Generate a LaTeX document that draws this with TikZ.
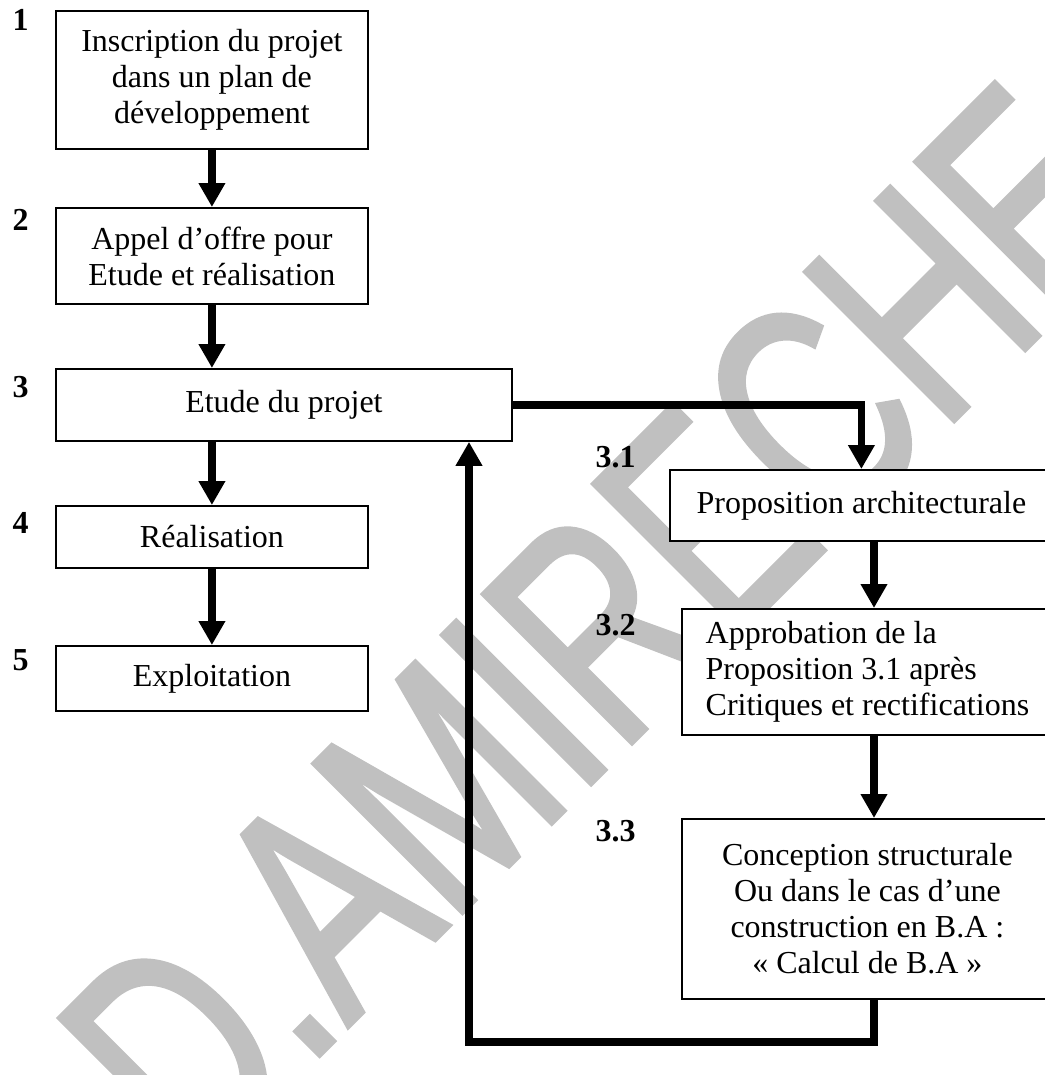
\documentclass[tikz,border=0pt]{standalone}
\usepackage{fontspec}
\setmainfont{Liberation Serif}
\newfontfamily\wmfont[FakeBold=2]{Liberation Sans}
\usetikzlibrary{arrows.meta}
\definecolor{wmgray}{HTML}{C0C0C0}

\tikzset{every picture/.append style={x=0.375pt, y=-0.375pt}}
\tikzset{
  box/.style={draw, fill=white, line width=0.7pt, inner sep=0pt, align=center,
    anchor=north west, font=\fontsize{12pt}{13.5pt}\selectfont},
  num/.style={anchor=base west, inner sep=0pt, font=\fontsize{12pt}{13.5pt}\selectfont\bfseries},
  flow/.style={line width=2.7pt, -{Triangle[length=9pt, width=9.5pt]}},
  wmark/.style={text=wmgray, inner sep=0pt, rotate=45, xscale=0.71, transform shape,
    font=\wmfont\fontsize{114pt}{114pt}\selectfont}
}

\begin{document}
\begin{tikzpicture}
  \useasboundingbox (0,0) rectangle (1045,1075);
  \clip (0,0) rectangle (1045,1075);
  \node[wmark] (wm) at (600,626) {D.AMIRECHE};

  \node[box, minimum width=117pt, minimum height=51.75pt] (b1) at (55,10) {Inscription du projet\\dans un plan de\\développement};
  \node[box, minimum width=117pt, minimum height=36pt] (b2) at (55,207) {Appel d’offre pour\\Etude et réalisation};
  \node[box, minimum width=171pt, minimum height=27pt] (b3) at (55,368) {Etude du projet};
  \node[box, minimum width=117pt, minimum height=23.25pt] (b4) at (55,505) {Réalisation};
  \node[box, minimum width=117pt, minimum height=24.4pt] (b5) at (55,645) {Exploitation};
  \node[box, minimum width=143.6pt, minimum height=26.6pt] (b31) at (669,469) {Proposition architecturale};
  \node[box, align=left, minimum width=139.1pt, minimum height=47.25pt] (b32) at (681,608) {Approbation de la\\Proposition 3.1 après\\Critiques et rectifications};
  \node[box, minimum width=139.1pt, minimum height=67.5pt] (b33) at (681,818) {Conception structurale\\Ou dans le cas d’une\\construction en B.A :\\« Calcul de B.A »};

  \node[num] (n1) at (12,30) {1};
  \node[num] (n2) at (12,230) {2};
  \node[num] (n3) at (12,397) {3};
  \node[num] (n4) at (12,533) {4};
  \node[num] (n5) at (12,670) {5};
  \node[num] (n31) at (595,467) {3.1};
  \node[num] (n32) at (595,635) {3.2};
  \node[num] (n33) at (595,841) {3.3};

  \coordinate (rx) at (874,0);
  \coordinate (fb) at (469,1042);
  \draw[flow] (b1.south) -- (b2.north);
  \draw[flow] (b2.south) -- (b2.south |- b3.north);
  \draw[flow] (b2.south |- b3.south) -- (b4.north);
  \draw[flow] (b4.south) -- (b5.north);
  \draw[flow] (b3.east) -| (b31.north);
  \draw[flow] (b31.south -| rx) -- (b32.north -| rx);
  \draw[flow] (b32.south -| rx) -- (b33.north -| rx);
  \draw[flow] (b33.south -| rx) |- (fb) -- (b3.south -| fb);
\end{tikzpicture}
\end{document}
